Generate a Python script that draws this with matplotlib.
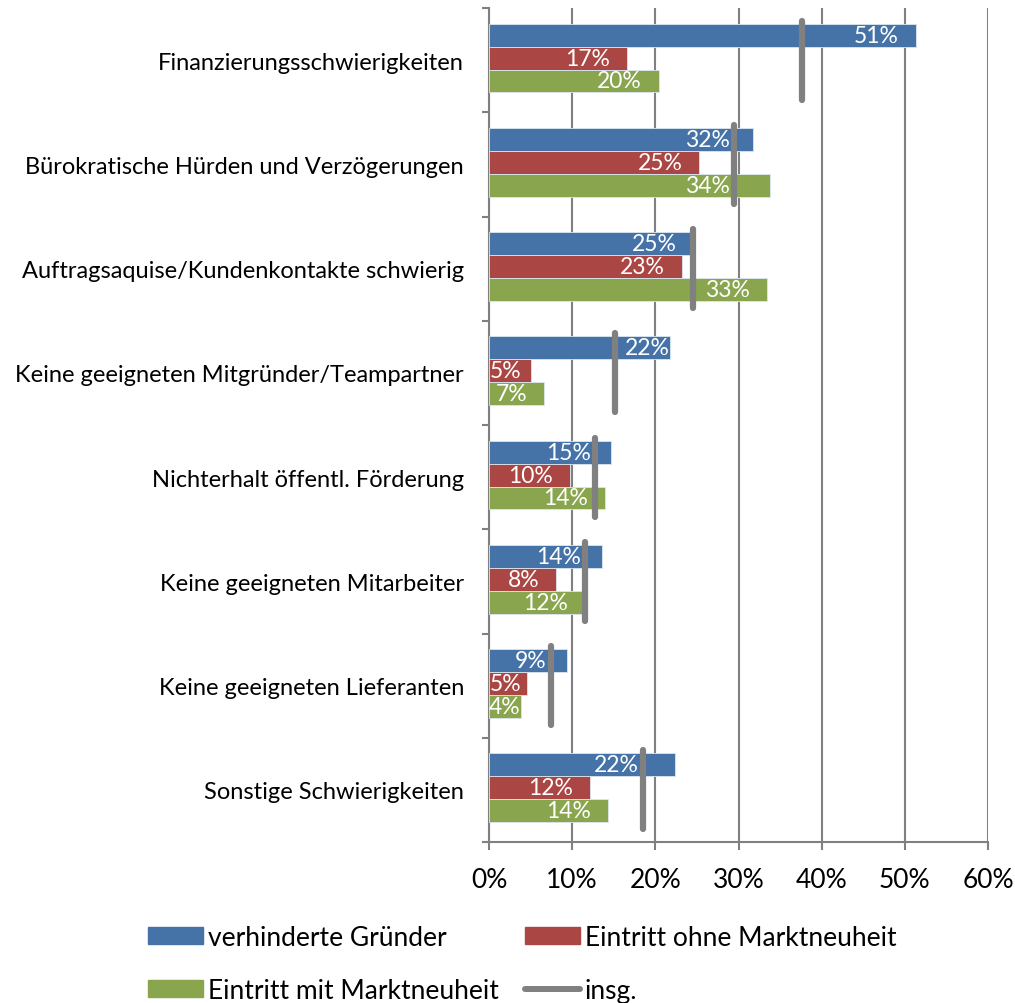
import numpy as np
import matplotlib.pyplot as plt
from matplotlib.patches import Patch
from matplotlib.lines import Line2D

plt.rcParams['font.family'] = ['Lato', 'DejaVu Sans']

categories = ['Finanzierungsschwierigkeiten',
              'Bürokratische Hürden und Verzögerungen',
              'Auftragsaquise/Kundenkontakte schwierig',
              'Keine geeigneten Mitgründer/Teampartner',
              'Nichterhalt öffentl. Förderung',
              'Keine geeigneten Mitarbeiter',
              'Keine geeigneten Lieferanten',
              'Sonstige Schwierigkeiten']

verhindert = [51.3, 31.7, 24.6, 21.8, 14.7, 13.6, 9.4, 22.4]
ohne_neuheit = [16.6, 25.3, 23.2, 5.1, 9.7, 8.1, 4.6, 12.2]
mit_neuheit = [20.4, 33.8, 33.4, 6.6, 14.0, 11.6, 3.9, 14.3]
insg = [37.6, 29.5, 24.5, 15.2, 12.8, 11.6, 7.4, 18.5]

blue = '#4572A7'
red = '#AA4643'
green = '#89A54E'
grey = '#808080'

fig = plt.figure(figsize=(10.15, 10.04), dpi=100)
ax = fig.add_axes([489/1015, 1-843/1004, 499/1015, 834/1004])

ax.set_xlim(0, 60)
ax.set_ylim(len(categories) - 0.5, -0.5)

y = np.arange(len(categories)) - 0.02
h = 0.22
renderer = fig.canvas.get_renderer()
px = lambda v: ax.transData.transform((v, 0))[0]
x0 = px(0)
series = [(verhindert, -h, blue), (ohne_neuheit, 0, red), (mit_neuheit, h, green)]
for vals, off, col in series:
    bars = ax.barh(y + off, vals, height=h, color=col, edgecolor='#dde6f0', linewidth=0.6, zorder=3)
    for i, (b, v) in enumerate(zip(bars, vals)):
        xe = px(v)
        xl = px(insg[i])
        t = ax.text(v, b.get_y() + h/2, '%d%%' % round(v), ha='right', va='center',
                    color='white', fontsize=16.5, zorder=5)
        w = t.get_window_extent(renderer).width
        # inside end with a gap, never past the bar start
        right = xe - min(17, max(1, xe - x0 - w - 1))
        # keep clear of the grey "insg." marker
        if right > xl - 4 and right - w < xl + 4:
            if xe - xl - 5 >= w:
                right = xe - 1
            else:
                right = xl - 4
        t.set_x(ax.transData.inverted().transform((right, 0))[0])

ax.vlines(insg, y + 0.02 - 0.38, y + 0.02 + 0.38, colors=grey, linewidth=4.5, zorder=6, capstyle='round')

ax.set_xticks(np.arange(0, 61, 10))
ax.set_xticklabels(['%d%%' % t for t in range(0, 61, 10)], fontsize=19)
ax.set_yticks(np.arange(len(categories)))
ax.set_yticklabels(categories, fontsize=17)
ax.set_yticks(np.arange(-0.5, len(categories), 1), minor=True)
ax.tick_params(axis='y', which='major', length=0, pad=18)
ax.tick_params(axis='y', which='minor', length=5, color=grey, width=1.5)
ax.tick_params(axis='x', length=6, color=grey, width=1.5, pad=12)
ax.grid(axis='x', color=grey, linewidth=1.5, zorder=0)
for s in ['top', 'right']:
    ax.spines[s].set_visible(False)
for s in ['left', 'bottom']:
    ax.spines[s].set_color(grey)
    ax.spines[s].set_linewidth(1.5)

handles = [Patch(color=blue, label='verhinderte Gründer'),
           Patch(color=green, label='Eintritt mit Marktneuheit'),
           Patch(color=red, label='Eintritt ohne Marktneuheit'),
           Line2D([], [], color=grey, linewidth=4.3, solid_capstyle='round', label='insg.')]
fig.legend(handles=handles, loc='center left', bbox_to_anchor=(148/1015, 1-965/1004), ncol=2,
           frameon=False, fontsize=19, handlelength=2.08, handleheight=0.6,
           handletextpad=0.18, columnspacing=1.0, labelspacing=1.05, borderpad=0,
           borderaxespad=0)

fig.savefig('out.png', dpi=100)
